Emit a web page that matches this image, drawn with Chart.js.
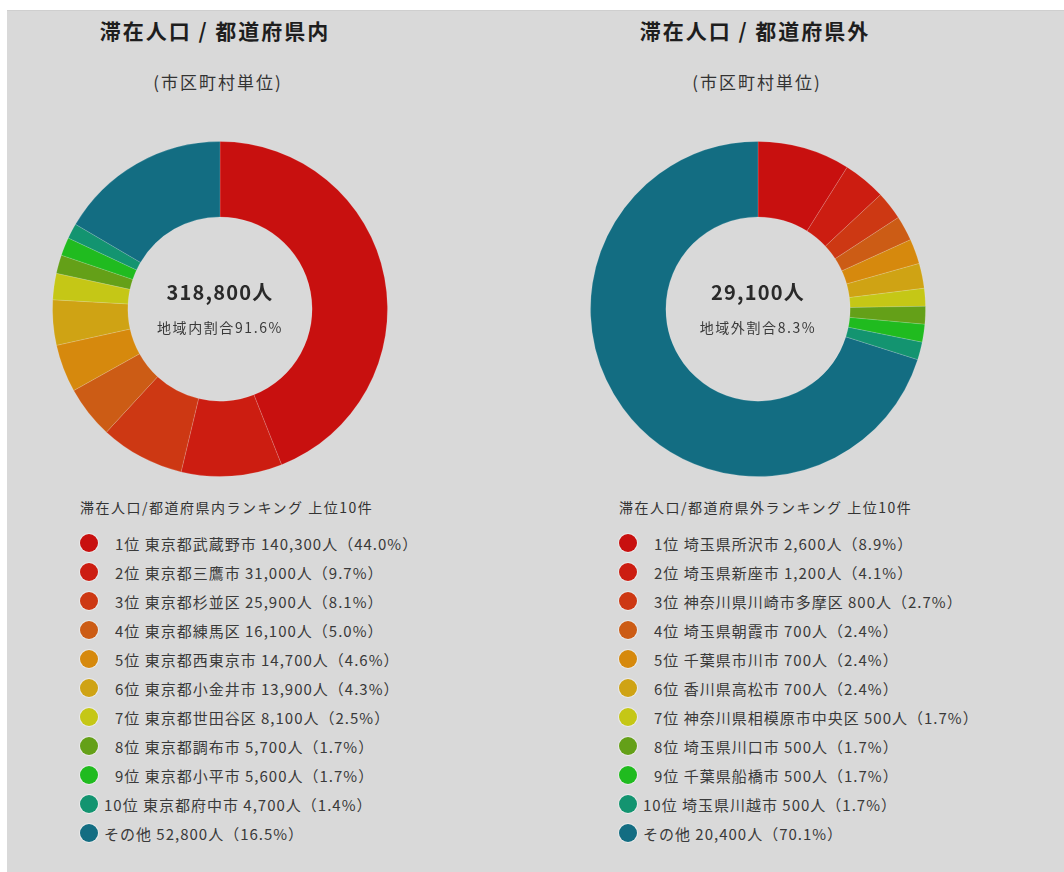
<!DOCTYPE html>
<html lang="ja">
<head>
<meta charset="utf-8">
<script src="https://cdn.jsdelivr.net/npm/chart.js@4"></script>
<style>
  body { margin: 0; background: #fff; font-family: "Noto Sans CJK JP", "Noto Sans", sans-serif; color: #333; }
  #page { position: absolute; left: 7px; top: 10px; width: 1057px; height: 862px; background: #d9d9d9; border-top: 1px solid #cfcfcf; }
  .title { position: absolute; width: 400px; text-align: center; font-size: 21px; font-weight: bold; color: #1e1e1e; letter-spacing: 2px; }
  .sub { position: absolute; width: 400px; text-align: center; font-size: 17px; color: #333; letter-spacing: 2px; }
  canvas { position: absolute; }
  .legend { position: absolute; }
  .legend .head { font-size: 14px; color: #333; height: 24px; line-height: 24px; letter-spacing: 1.5px; }
  .legend .row { position: relative; height: 29px; line-height: 29px; font-size: 15px; color: #3a3a3a; white-space: nowrap; letter-spacing: 1px; }
  .legend .dot { position: absolute; left: 0; top: 5px; width: 18px; height: 18px; border-radius: 50%; box-shadow: 0 0 0 1px rgba(255,255,255,0.45); }
</style>
</head>
<body>
<div id="page"></div>
<script>
// 都道府県内
const inLabels = ["1位 東京都武蔵野市", "2位 東京都三鷹市", "3位 東京都杉並区", "4位 東京都練馬区", "5位 東京都西東京市",
  "6位 東京都小金井市", "7位 東京都世田谷区", "8位 東京都調布市", "9位 東京都小平市", "10位 東京都府中市", "その他"];
const inValues = [140300, 31000, 25900, 16100, 14700, 13900, 8100, 5700, 5600, 4700, 52800];
const inPct = ["44.0", "9.7", "8.1", "5.0", "4.6", "4.3", "2.5", "1.7", "1.7", "1.4", "16.5"];

// 都道府県外
const outLabels = ["1位 埼玉県所沢市", "2位 埼玉県新座市", "3位 神奈川県川崎市多摩区", "4位 埼玉県朝霞市", "5位 千葉県市川市",
  "6位 香川県高松市", "7位 神奈川県相模原市中央区", "8位 埼玉県川口市", "9位 千葉県船橋市", "10位 埼玉県川越市", "その他"];
const outValues = [2600, 1200, 800, 700, 700, 700, 500, 500, 500, 500, 20400];
const outPct = ["8.9", "4.1", "2.7", "2.4", "2.4", "2.4", "1.7", "1.7", "1.7", "1.7", "70.1"];

const sliceColors = ["#c8100f", "#cc1d11", "#cd3813", "#cc5c15", "#d6890d", "#cfa314", "#c5c716",
  "#64a018", "#20bb1f", "#139470", "#136d82"];

const page = document.getElementById("page");

function addText(cls, text, left, top) {
  const d = document.createElement("div");
  d.className = cls;
  d.textContent = text;
  d.style.left = left + "px";
  d.style.top = top + "px";
  page.appendChild(d);
}

// 中央のテキスト
const centerText = {
  id: "centerText",
  afterDraw(chart, args, opts) {
    const ctx = chart.ctx;
    const meta = chart.getDatasetMeta(0).data[0];
    ctx.save();
    ctx.textAlign = "center";
    ctx.textBaseline = "middle";
    ctx.fillStyle = "#2a2a2a";
    ctx.font = "bold 20px 'Noto Sans CJK JP'";
    ctx.letterSpacing = "1.2px";
    ctx.fillText(opts.main, meta.x, meta.y - 17);
    ctx.fillStyle = "#3a3a3a";
    ctx.font = "14px 'Noto Sans CJK JP'";
    ctx.letterSpacing = "1.6px";
    ctx.fillText(opts.sub, meta.x, meta.y + 19);
    ctx.restore();
  }
};

function makeDonut(left, labels, values, main, sub) {
  const c = document.createElement("canvas");
  c.width = 336; c.height = 336;
  c.style.left = left + "px";
  c.style.top = "130px";
  page.appendChild(c);
  new Chart(c, {
    type: "doughnut",
    data: {
      labels: labels,
      datasets: [{
        data: values,
        backgroundColor: sliceColors,
        borderColor: "rgba(255,255,255,0.15)",
        borderWidth: 1
      }]
    },
    options: {
      responsive: false,
      animation: false,
      cutout: "55%",
      plugins: {
        legend: { display: false },
        tooltip: { enabled: false },
        centerText: { main: main, sub: sub }
      }
    },
    plugins: [centerText]
  });
}

function makeLegend(left, head, labels, values, pct) {
  const box = document.createElement("div");
  box.className = "legend";
  box.style.left = left + "px";
  box.style.top = "484px";
  const h = document.createElement("div");
  h.className = "head";
  h.textContent = head;
  box.appendChild(h);
  const sp = document.createElement("div");
  sp.style.height = "10px";
  box.appendChild(sp);
  labels.forEach((lab, i) => {
    const row = document.createElement("div");
    row.className = "row";
    const dot = document.createElement("span");
    dot.className = "dot";
    dot.style.background = sliceColors[i];
    row.appendChild(dot);
    const t = document.createElement("span");
    t.style.position = "absolute";
    // 1桁の順位は少し右に寄せる
    t.style.left = (i < 9 ? 35 : 24) + "px";
    t.textContent = lab + " " + values[i].toLocaleString("en-US") + "人（" + pct[i] + "%）";
    row.appendChild(t);
    box.appendChild(row);
  });
  page.appendChild(box);
}

addText("title", "滞在人口 / 都道府県内", 8, 4);
addText("sub", "(市区町村単位)", 11, 58);
addText("title", "滞在人口 / 都道府県外", 548, 4);
addText("sub", "(市区町村単位)", 550, 58);

makeDonut(45, inLabels, inValues, "318,800人", "地域内割合91.6%");
makeDonut(583, outLabels, outValues, "29,100人", "地域外割合8.3%");

makeLegend(73, "滞在人口/都道府県内ランキング 上位10件", inLabels, inValues, inPct);
makeLegend(612, "滞在人口/都道府県外ランキング 上位10件", outLabels, outValues, outPct);
</script>
</body>
</html>
